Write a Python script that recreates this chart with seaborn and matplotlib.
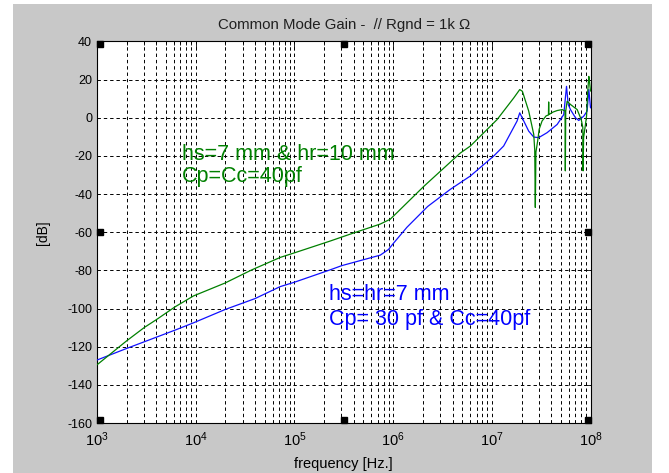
import matplotlib
matplotlib.use("Agg")
import matplotlib.pyplot as plt
import matplotlib.transforms as mtransforms
from matplotlib.patches import Rectangle
from matplotlib.ticker import LogLocator, NullFormatter
import numpy as np
import pandas as pd
import seaborn as sns

# values (log10 of frequency, gain in dB)
green_logf = [3.0, 3.301, 3.48, 3.605, 3.791, 3.977, 4.298, 4.569, 4.856, 5.0, 5.363, 5.61, 5.87,
              5.97, 6.04, 6.31, 6.68, 6.783, 7.054, 7.222, 7.283, 7.31, 7.374,
              7.425, 7.435, 7.441, 7.447, 7.465, 7.48, 7.509, 7.55, 7.574, 7.576,
              7.578, 7.62, 7.662, 7.713, 7.742, 7.745, 7.749, 7.763, 7.797, 7.865,
              7.906, 7.922, 7.925, 7.93, 7.945, 7.96, 7.972, 7.983, 7.99, 8.0]
green_db = [-129.5, -116.9, -109.9, -105.7, -99.1, -93.4, -86.6, -79.7, -73.2, -70.8, -64.6, -60.2, -55.7,
            -53.2, -49.7, -36.0, -18.5, -14.8, -0.9, 10.4, 14.8, 13.9, 3.5,
            -8.7, -17.0, -47.0, -18.0, -12.0, -6.0, -1.7, 1.0, 1.5, 8.3,
            1.7, 3.0, 3.8, 4.3, 3.5, -27.8, 3.5, 8.7, 7.0, 4.3,
            -0.9, -5.0, -27.8, -10.4, -5.0, 0.9, 13.9, 21.7, 19.0, 14.0]

blue_logf = [3.0, 3.301, 3.48, 3.791, 3.977, 4.298, 4.6, 4.856, 5.0, 5.363, 5.48, 5.87, 5.954, 6.0,
             6.14, 6.35, 6.58, 6.783, 7.02, 7.12, 7.256, 7.283, 7.324, 7.374,
             7.425, 7.475, 7.56, 7.662, 7.729, 7.757, 7.774, 7.797, 7.848, 7.881,
             7.932, 7.966, 7.983, 8.0]
blue_db = [-127.0, -120.9, -117.4, -111.3, -107.5, -100.5, -94.8, -88.5, -86.2, -79.7, -77.5, -72.0, -69.0, -66.0,
           -57.4, -46.5, -37.5, -30.5, -20.0, -14.8, -1.7, 2.6, -1.7, -7.0,
           -10.1, -10.4, -7.8, -3.5, 1.7, 16.5, 7.0, 4.3, 0.0, -1.4,
           0.9, 3.5, 14.8, 5.2]

y_ticks = [-160, -140, -120, -100, -80, -60, -40, -20, 0, 20, 40]

sns.set_theme(style="white")
plt.rcParams["font.family"] = ["Liberation Sans", "DejaVu Sans"]
plt.rcParams["axes.unicode_minus"] = False

GREEN = "#008000"
BLUE = "#1010ff"
GRAY = "#c8c8c8"

fig = plt.figure(figsize=(6.69, 4.73), dpi=100, facecolor="white")
# MATLAB-style grey figure panel with a thin white border around it
fig.patches.append(Rectangle((13 / 669, 0), 639 / 669, 469 / 473,
                             transform=fig.transFigure, facecolor=GRAY,
                             edgecolor="none", zorder=-10))
ax = fig.add_axes([97 / 669, 50 / 473, 493.5 / 669, 381.5 / 473])
ax.set_facecolor("white")

df_b = pd.DataFrame({"f": 10 ** np.array(blue_logf), "db": blue_db})
df_g = pd.DataFrame({"f": 10 ** np.array(green_logf), "db": green_db})
sns.lineplot(data=df_b, x="f", y="db", ax=ax, color=BLUE, linewidth=0.9,
             estimator=None, sort=False, zorder=3)
sns.lineplot(data=df_g, x="f", y="db", ax=ax, color=GREEN, linewidth=0.9,
             estimator=None, sort=False, zorder=4)

ax.set_xscale("log")
ax.set_xlim(1e3, 1e8)
ax.set_ylim(-160, 40)
ax.set_yticks(y_ticks)
ax.xaxis.set_minor_locator(LogLocator(base=10, subs=np.arange(2, 10), numticks=50))
ax.xaxis.set_minor_formatter(NullFormatter())

dash = (0, (3.5, 3.0))
ax.grid(True, which="major", axis="both", color="black", linestyle=dash, linewidth=0.7)
ax.grid(True, which="minor", axis="x", color="black", linestyle=dash, linewidth=0.7)
ax.set_axisbelow(True)

for s in ax.spines.values():
    s.set_color("black")
    s.set_linewidth(0.8)
ax.tick_params(which="both", direction="in", top=True, right=True, colors="black", width=0.6)
ax.tick_params(which="major", length=5)
ax.tick_params(which="minor", length=3)
ax.tick_params(axis="y", labelsize=9)
ax.tick_params(axis="x", labelsize=10.5, pad=5)

ax.set_title("Common Mode Gain -  // Rgnd = 1k \u03a9", fontsize=10.8, pad=9, color="#202020")
ax.set_xlabel("frequency [Hz.]", fontsize=10.5, labelpad=6, color="black")
ax.set_ylabel("[dB]", fontsize=10, labelpad=12, color="black")

ax.text(7.3e3, -19.5, "hs=7 mm & hr=10 mm", color=GREEN, fontsize=15.5, va="center", ha="left")
ax.text(7.3e3, -31.0, "Cp=Cc=40pf", color=GREEN, fontsize=15.5, va="center", ha="left")
ax.text(2.24e5, -92.4, "hs=hr=7 mm", color="#0000ff", fontsize=15.5, va="center", ha="left")
ax.text(2.24e5, -105.5, "Cp= 30 pf & Cc=40pf", color="#0000ff", fontsize=15.5, va="center", ha="left")

# selection handles drawn by MATLAB on the axes box
for fx, fy in [(0, 0), (0.5, 0), (1, 0), (0, 0.5), (1, 0.5), (0, 1), (0.5, 1), (1, 1)]:
    dx = 3 if fx == 0 else (-3 if fx == 1 else 0)
    dy = 3 if fy == 0 else (-3 if fy == 1 else 0)
    tr = ax.transAxes + mtransforms.ScaledTranslation(dx / 100, dy / 100, fig.dpi_scale_trans)
    ax.plot([fx], [fy], marker="s", markersize=4.5, color="black", transform=tr,
            clip_on=False, zorder=6)

fig.savefig("out.png", dpi=100, facecolor=fig.get_facecolor())
plt.close(fig)
